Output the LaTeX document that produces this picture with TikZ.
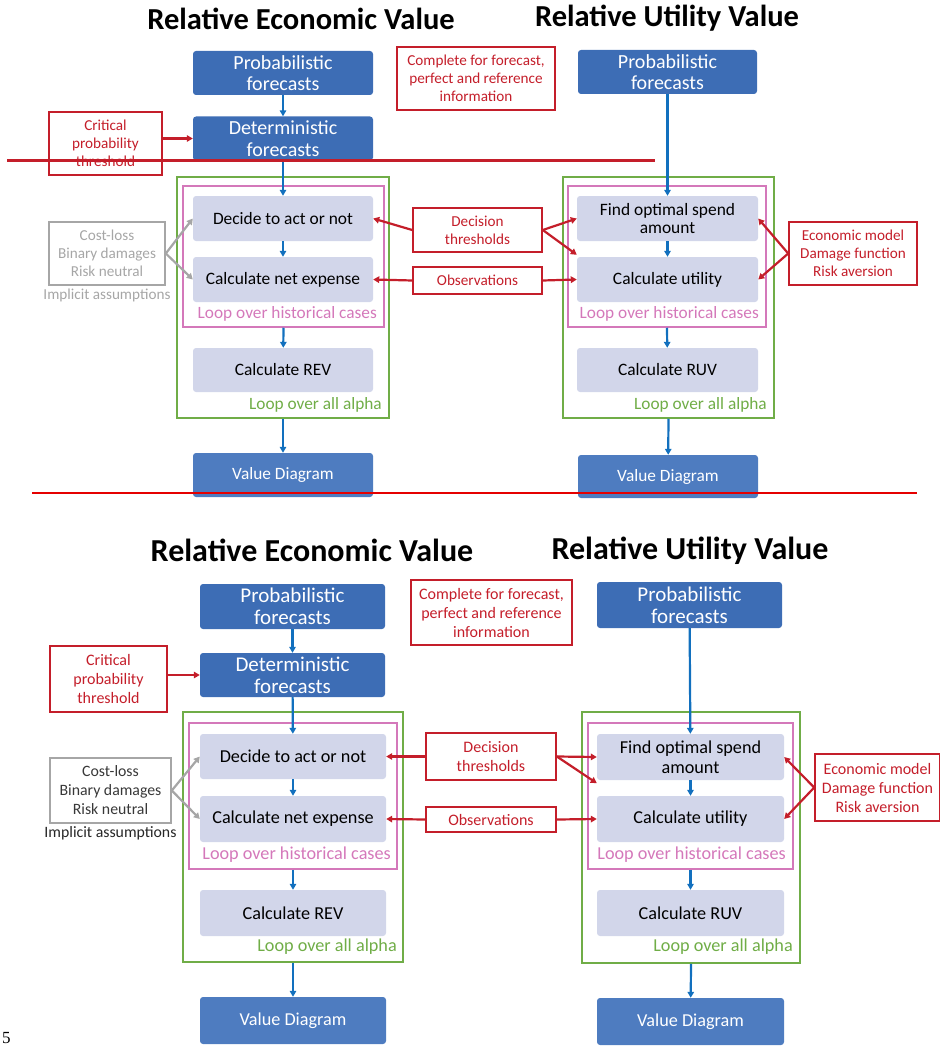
\documentclass[tikz,border=0pt]{standalone}
\usepackage{fontspec}
\setmainfont{Carlito}
\newfontfamily\pagefont{Liberation Serif}
\usetikzlibrary{
  	positioning,
  	arrows.meta,
  	calc,
  	fit
  }

\definecolor{fcblue}{RGB}{61,109,181}
\definecolor{vdblue}{RGB}{78,124,192}
\definecolor{stepfill}{RGB}{210,214,234}
\definecolor{flowblue}{RGB}{18,112,190}
\definecolor{notered}{RGB}{196,30,42}
\definecolor{loopgreen}{RGB}{112,173,71}
\definecolor{looppink}{RGB}{212,120,186}
\definecolor{assumgray}{RGB}{166,166,166}

\newcommand{\ftitle}[1]{\fontsize{#1}{#1}\bfseries\selectfont}
\newcommand{\fsize}[2]{\fontsize{#1}{#2}\selectfont}

\tikzset{
  sz/.style 2 args={minimum width=#1pt, minimum height=#2pt, inner sep=0pt},
  fcbox/.style={fill=fcblue, text=white, rounded corners=3pt, align=center},
  vdbox/.style={fill=vdblue, text=white, rounded corners=3pt, align=center},
  stepbox/.style={fill=stepfill, text=black, rounded corners=3pt, align=center},
  notebox/.style={draw=notered, line width=1.6pt, text=notered, align=center},
  assumbox/.style={draw=assumgray, line width=1.6pt, align=center},
  alphabox/.style={draw=loopgreen, line width=1.5pt, inner sep=0pt},
  casebox/.style={draw=looppink, line width=1.5pt, inner sep=0pt},
  flow/.style={draw=flowblue, line width=2.2pt, -{Triangle[length=6pt,width=6.5pt]}},
  noteflow/.style={draw=notered, line width=2.2pt, -{Triangle[length=6pt,width=6.5pt]}},
  assumflow/.style={draw=assumgray, line width=2.2pt, -{Triangle[length=6pt,width=6.5pt]}},
}

\begin{document}
\begin{tikzpicture}[x=1pt, y=-1pt]
  \useasboundingbox (0,0) rectangle (939,1046);
%
  \node[font=\ftitle{30.5}] (titleEa) at (301,18.5) {Relative Economic Value};
  \node[font=\ftitle{30.5}] (titleUa) at (667,18.5) {Relative Utility Value};
%
  \node[fcbox, sz={180}{44}, font=\fsize{20}{21.5}] (probEa) at (283,73) {Probabilistic\\forecasts};
  \node[fcbox, sz={180}{44}, font=\fsize{20}{21.5}] (detEa) at (283,138.5) {Deterministic\\forecasts};
  \node[notebox, sz={113}{63}, font=\fsize{15.2}{18}] (critA) at (105.5,143.5) {Critical\\probability\\threshold};
  \node[notebox, sz={158}{63}, font=\fsize{15.2}{18}] (compA) at (476,78.5) {Complete for forecast,\\perfect and reference\\information};
%
  \node[alphabox, fit={(177,177)(389,418)}] (alphaEa) {};
  \node[casebox, fit={(183,186)(384,327)}] (caseEa) {};
  \node[stepbox, sz={180}{45}, font=\fsize{17.4}{18.5}] (decEa) at (283,218.5) {Decide to act or not};
  \node[stepbox, sz={180}{45}, font=\fsize{17.4}{18.5}] (netEa) at (283,279.5) {Calculate net expense};
  \node[stepbox, sz={180}{44}, font=\fsize{17.4}{18.5}] (revEa) at (283,370) {Calculate REV};
  \node[anchor=east, text=looppink, inner sep=0pt, font=\fsize{17.3}{19}] (caseEalab) at (377,314) {Loop over historical cases};
  \node[anchor=east, text=loopgreen, inner sep=0pt, font=\fsize{17.3}{19}] (alphaEalab) at (382,405) {Loop over all alpha};
  \node[vdbox, sz={180}{44}, font=\fsize{17.3}{19}] (valEa) at (283,475) {Value Diagram};
  \node[assumbox, sz={116}{63}, text=assumgray, font=\fsize{15.2}{18},
        label={[text=assumgray, inner sep=0pt, label distance=3pt, font=\fsize{15.2}{18}]below:Implicit assumptions}] (costA) at (107,253.5) {Cost-loss\\Binary damages\\Risk neutral};
%
  \node[notebox, sz={129}{44}, font=\fsize{15.2}{18}] (thrA) at (477.5,230) {Decision\\thresholds};
  \node[notebox, sz={129}{27}, font=\fsize{15.2}{18}] (obsA) at (477.5,280.5) {Observations};
%
  \node[fcbox, sz={179}{44}, font=\fsize{20}{21.5}] (probUa) at (667.5,72) {Probabilistic\\forecasts};
  \node[alphabox, fit={(563,177)(774,418)}] (alphaUa) {};
  \node[casebox, fit={(568,186)(766,327)}] (caseUa) {};
  \node[stepbox, sz={181}{45}, font=\fsize{17.4}{18}] (findUa) at (667.5,218.5) {Find optimal spend\\amount};
  \node[stepbox, sz={181}{45}, font=\fsize{17.4}{18.5}] (utilUa) at (667.5,279.5) {Calculate utility};
  \node[stepbox, sz={181}{44}, font=\fsize{17.4}{18.5}] (ruvUa) at (667.5,370) {Calculate RUV};
  \node[anchor=east, text=looppink, inner sep=0pt, font=\fsize{17.3}{19}] (caseUalab) at (759,314) {Loop over historical cases};
  \node[anchor=east, text=loopgreen, inner sep=0pt, font=\fsize{17.3}{19}] (alphaUalab) at (767,405) {Loop over all alpha};
  \node[vdbox, sz={180}{43}, font=\fsize{17.3}{19}] (valUa) at (668,476.5) {Value Diagram};
  \node[notebox, sz={128}{63}, font=\fsize{15.2}{18}] (econA) at (853,253.5) {Economic model\\Damage function\\Risk aversion};
%
  \draw[flow] (probEa) -- (detEa);
  \draw[flow] (detEa) -- (decEa);
  \draw[flow] (decEa) -- (netEa);
  \draw[flow] (caseEa.south) -- (revEa);
  \draw[flow] (alphaEa.south) -- (valEa);
  \draw[flow] (probUa) -- (findUa);
  \draw[flow] (findUa) -- (utilUa);
  \draw[flow] (caseUa.south) -- (ruvUa);
  \draw[flow] (alphaUa.south) -- (valUa);
  \draw[noteflow] (critA.east |- detEa.west) -- (detEa.west);
  \draw[assumflow] (costA.east) -- (decEa.west);
  \draw[assumflow] (costA.east) -- (netEa.west);
  \draw[noteflow] (thrA.west) -- (decEa.east);
  \draw[noteflow] (thrA.east) -- (findUa.west);
  \draw[noteflow] (thrA.east) -- ($(utilUa.north west)+(0,-2)$);
  \draw[noteflow] (obsA.west) -- (netEa.east);
  \draw[noteflow] (obsA.east) -- (utilUa.west);
  \draw[noteflow] (econA.west) -- (findUa.east);
  \draw[noteflow] (econA.west) -- (utilUa.east);
%
  \coordinate (strikeL) at (7,160);
  \coordinate (strikeR) at (655,160);
  \draw[notered, line width=3pt] (strikeL) -- (strikeR);
  \coordinate (cutL) at (32,493);
  \coordinate (cutR) at (917,493);
  \draw[draw=red!90!black, line width=1.2pt] (cutL) -- (cutR);
%
  \node[font=\ftitle{32}] (titleEb) at (312,550.5) {Relative Economic Value};
  \node[font=\ftitle{32}] (titleUb) at (690,550.5) {Relative Utility Value};
%
  \node[fcbox, sz={185}{45}, font=\fsize{21}{22}] (probEb) at (292.5,606.5) {Probabilistic\\forecasts};
  \node[fcbox, sz={185}{44}, font=\fsize{21}{22}] (detEb) at (292.5,675) {Deterministic\\forecasts};
  \node[notebox, sz={117}{66}, font=\fsize{16}{19}] (critB) at (108.5,679) {Critical\\probability\\threshold};
  \node[notebox, sz={161}{65}, font=\fsize{16}{19}] (compB) at (491.5,612.5) {Complete for forecast,\\perfect and reference\\information};
%
  \node[alphabox, fit={(183,712)(403,962)}] (alphaEb) {};
  \node[casebox, fit={(189,723)(397,869)}] (caseEb) {};
  \node[stepbox, sz={186}{45}, font=\fsize{18.2}{20}] (decEb) at (293,756.5) {Decide to act or not};
  \node[stepbox, sz={186}{46}, font=\fsize{18.2}{20}] (netEb) at (293,819) {Calculate net expense};
  \node[stepbox, sz={186}{46}, font=\fsize{18.2}{20}] (revEb) at (293,913) {Calculate REV};
  \node[anchor=east, text=looppink, inner sep=0pt, font=\fsize{18.2}{20}] (caseEblab) at (391,855) {Loop over historical cases};
  \node[anchor=east, text=loopgreen, inner sep=0pt, font=\fsize{18.2}{20}] (alphaEblab) at (397,947) {Loop over all alpha};
  \node[vdbox, sz={186}{47}, font=\fsize{18.2}{20}] (valEb) at (293,1020.5) {Value Diagram};
  \node[assumbox, sz={121}{65}, text=black!78, font=\fsize{15.8}{19},
        label={[text=black!85, inner sep=0pt, label distance=3pt, font=\fsize{15.8}{19}]below:Implicit assumptions}] (costB) at (110.5,790.5) {Cost-loss\\Binary damages\\Risk neutral};
%
  \node[notebox, sz={130}{47}, font=\fsize{16}{19}] (thrB) at (491,756.5) {Decision\\thresholds};
  \node[notebox, sz={130}{25}, font=\fsize{16}{19}] (obsB) at (491,819.5) {Observations};
%
  \node[fcbox, sz={185}{46}, font=\fsize{21}{22}] (probUb) at (689.5,605) {Probabilistic\\forecasts};
  \node[alphabox, fit={(582,712)(800,963)}] (alphaUb) {};
  \node[casebox, fit={(588,723)(793,869)}] (caseUb) {};
  \node[stepbox, sz={187}{46}, font=\fsize{18.2}{20}] (findUb) at (690.5,757) {Find optimal spend\\amount};
  \node[stepbox, sz={187}{46}, font=\fsize{18.2}{20}] (utilUb) at (690.5,819) {Calculate utility};
  \node[stepbox, sz={187}{46}, font=\fsize{18.2}{20}] (ruvUb) at (690.5,913) {Calculate RUV};
  \node[anchor=east, text=looppink, inner sep=0pt, font=\fsize{18.2}{20}] (caseUblab) at (786,855) {Loop over historical cases};
  \node[anchor=east, text=loopgreen, inner sep=0pt, font=\fsize{18.2}{20}] (alphaUblab) at (793,947) {Loop over all alpha};
  \node[vdbox, sz={187}{47}, font=\fsize{18.2}{20}] (valUb) at (690.5,1021.5) {Value Diagram};
  \node[notebox, sz={125}{67}, font=\fsize{16}{19}] (econB) at (877.5,787.5) {Economic model\\Damage function\\Risk aversion};
%
  \draw[flow] (probEb) -- (detEb);
  \draw[flow] (detEb) -- (decEb);
  \draw[flow] (decEb) -- (netEb);
  \draw[flow] (caseEb.south) -- (revEb);
  \draw[flow] (alphaEb.south) -- (valEb);
  \draw[flow] (probUb) -- (findUb);
  \draw[flow] (findUb) -- (utilUb);
  \draw[flow] (caseUb.south) -- (ruvUb);
  \draw[flow] (alphaUb.south) -- (valUb);
  \draw[noteflow] (critB.east |- detEb.west) -- (detEb.west);
  \draw[assumflow] (costB.east) -- (decEb.west);
  \draw[assumflow] (costB.east) -- (netEb.west);
  \draw[noteflow] (thrB.west) -- (decEb.east);
  \draw[noteflow] (thrB.east) -- (findUb.west);
  \draw[noteflow] (thrB.east) -- ($(findUb.south west)+(0,3)$);
  \draw[noteflow] (obsB.west) -- (netEb.east);
  \draw[noteflow] (obsB.east) -- (utilUb.west);
  \draw[noteflow] (econB.west) -- (findUb.east);
  \draw[noteflow] (econB.west) -- (utilUb.east);
%
  \node[anchor=south west, inner sep=0pt, font=\pagefont\fontsize{17}{17}\selectfont] (pageno) at (2,1044) {5};
\end{tikzpicture}
\end{document}
